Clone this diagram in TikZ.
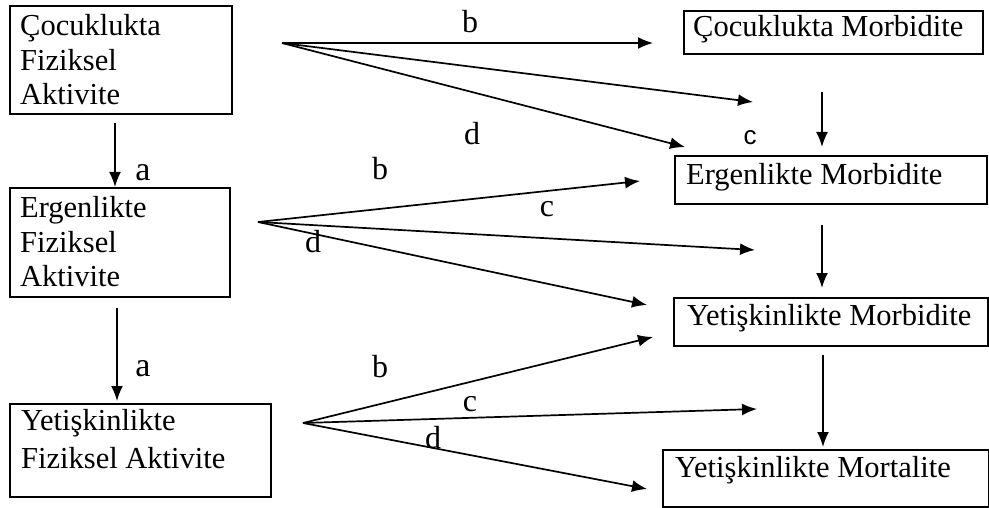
\documentclass[tikz,border=0pt]{standalone}
\usepackage{fontspec}
\setmainfont{Liberation Serif}
\newfontfamily\lblsans{Liberation Sans}
\usetikzlibrary{arrows.meta}

\tikzset{
  box/.style={draw, line width=1.8pt, rectangle, inner sep=0pt, anchor=north west},
  txt/.style={inner sep=0pt, anchor=base west, align=left},
  lbl/.style={inner sep=0pt, anchor=base, font=\fontsize{32}{34}\selectfont},
  link/.style={line width=1.7pt, -{Latex[length=15pt,width=12pt]}},
}

\begin{document}
\begin{tikzpicture}[x=1pt, y=-1pt]
  \useasboundingbox (0,0) rectangle (989,508);

  % frames of the boxes
  \node[box, minimum width=222, minimum height=108] (lb1) at (9,5) {};
  \node[box, minimum width=220, minimum height=109] (lb2) at (9,187) {};
  \node[box, minimum width=261, minimum height=93]  (lb3) at (9,403) {};
  \node[box, minimum width=299, minimum height=43]  (rb1) at (683,10) {};
  \node[box, minimum width=312, minimum height=48]  (rb2) at (674,155) {};
  \node[box, minimum width=314, minimum height=48]  (rb3) at (673,297) {};
  \node[box, minimum width=326, minimum height=57]  (rb4) at (662,449) {};

  % box texts (base anchor sits on the last line)
  \node[txt, font=\fontsize{30.5}{34.5}\selectfont] (lt1) at (20,105) {Çocuklukta\\Fiziksel\\Aktivite};
  \node[txt, font=\fontsize{30.5}{35}\selectfont] (lt2) at (20,287) {Ergenlikte\\Fiziksel\\Aktivite};
  \node[txt, font=\fontsize{30.5}{38}\selectfont] (lt3) at (21,468) {Yetişkinlikte\\Fiziksel Aktivite};
  \node[txt, font=\fontsize{30.5}{34}\selectfont] (rt1) at (693,37) {Çocuklukta Morbidite};
  \node[txt, font=\fontsize{30.5}{34}\selectfont] (rt2) at (686,185) {Ergenlikte Morbidite};
  \node[txt, font=\fontsize{30.5}{34}\selectfont] (rt3) at (687,325) {Yetişkinlikte Morbidite};
  \node[txt, font=\fontsize{30.5}{34}\selectfont] (rt4) at (675,477) {Yetişkinlikte Mortalite};

  % fan origins and arrow ends
  \coordinate (f1) at (282,43);
  \coordinate (f1b) at (653,43);
  \coordinate (f1c) at (753,102);
  \coordinate (f1d) at (685,147);
  \coordinate (f2) at (258,222);
  \coordinate (f2b) at (640,181);
  \coordinate (f2c) at (755,250);
  \coordinate (f2d) at (647,305);
  \coordinate (f3) at (303,423);
  \coordinate (f3b) at (653,337);
  \coordinate (f3c) at (757,409);
  \coordinate (f3d) at (647,489);

  \coordinate (v1s) at (822,92);   \coordinate (v1e) at (822,147);
  \coordinate (v2s) at (822,225);  \coordinate (v2e) at (822,288);
  \coordinate (v3s) at (823,355);  \coordinate (v3e) at (823,447);
  \coordinate (a1s) at (115,123);  \coordinate (a1e) at (115,187);
  \coordinate (a2s) at (117,308);  \coordinate (a2e) at (117,401);

  % fans
  \draw[link] (f1) -- (f1b);
  \draw[link] (f1) -- (f1c);
  \draw[link] (f1) -- (f1d);
  \draw[link] (f2) -- (f2b);
  \draw[link] (f2) -- (f2c);
  \draw[link] (f2) -- (f2d);
  \draw[link] (f3) -- (f3b);
  \draw[link] (f3) -- (f3c);
  \draw[link] (f3) -- (f3d);

  % vertical chains
  \draw[link] (v1s) -- (v1e);
  \draw[link] (v2s) -- (v2e);
  \draw[link] (v3s) -- (v3e);
  \draw[link] (a1s) -- (a1e);
  \draw[link] (a2s) -- (a2e);

  % path labels
  \node[lbl] (b1) at (470,33) {b};
  \node[lbl] (d1) at (472,145) {d};
  \node[lbl, font=\lblsans\fontsize{26}{28}\selectfont] (c1) at (750,145) {c};
  \node[lbl, font=\fontsize{34}{36}\selectfont] (a1) at (143,181) {a};
  \node[lbl] (b2) at (380,180) {b};
  \node[lbl] (c2) at (547,217) {c};
  \node[lbl] (d2) at (313,252) {d};
  \node[lbl, font=\fontsize{34}{36}\selectfont] (a2) at (143,376) {a};
  \node[lbl] (b3) at (380,377) {b};
  \node[lbl] (c3) at (470,411) {c};
  \node[lbl] (d3) at (433,448) {d};
\end{tikzpicture}
\end{document}
